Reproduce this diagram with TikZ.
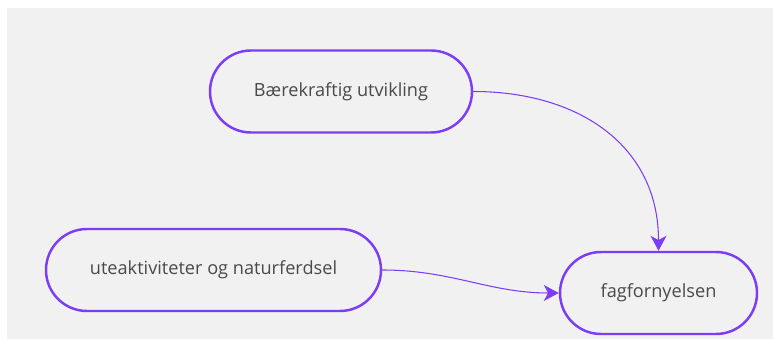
\documentclass[tikz,border=0pt]{standalone}
\usepackage{fontspec}
\setmainfont{Open Sans}
\usepackage{tikz}
\usetikzlibrary{calc}
\usetikzlibrary{arrows.meta,positioning}

\definecolor{pillpurple}{HTML}{7D3CF5}
\definecolor{bggray}{HTML}{F1F1F1}
\definecolor{textgray}{HTML}{4A4A4A}

\begin{document}
\begin{tikzpicture}[
  pill/.style={rectangle,rounded corners=1.23cm,minimum height=2.46cm,draw=pillpurple,line width=2.1pt,text=textgray,font=\fontsize{15.5pt}{18pt}\selectfont},
  link/.style={draw=pillpurple,line width=0.9pt,arrows={-{Stealth[length=0.45cm,width=0.48cm,inset=0.13cm]}}}
]

\coordinate (LEFTCORNER) at (0,0);
\useasboundingbox (LEFTCORNER) rectangle ++(23.19,10.17);

%draw background
\fill[bggray] ($(LEFTCORNER)+(0.21,0)$) rectangle ($(LEFTCORNER)+(23.19,9.93)$);

%%%%%%%%%%%%%%%%%%%%%

%draw topics
\node[pill,minimum width=7.86cm] at ($(LEFTCORNER)+(10.23,7.425)$) (BAEREKRAFT) {Bærekraftig utvikling};
\node[pill,minimum width=10.05cm] at ($(LEFTCORNER)+(6.405,2.07)$) (UTEAKTIVITET) {uteaktiviteter og naturferdsel};
\node[pill,minimum width=5.91cm] at ($(LEFTCORNER)+(19.755,1.38)$) (FAGFORNYELSE) {fagfornyelsen};

%%%%%%%

%draw arrows into fagfornyelsen
\draw[link] (BAEREKRAFT.east) to[out=0,in=90,looseness=1.1] (FAGFORNYELSE.north);
\draw[link] (UTEAKTIVITET.east) to[out=0,in=180] (FAGFORNYELSE.west);

%%%%%%%%%%%%%%%%%%%%%%

\end{tikzpicture}
\end{document}
